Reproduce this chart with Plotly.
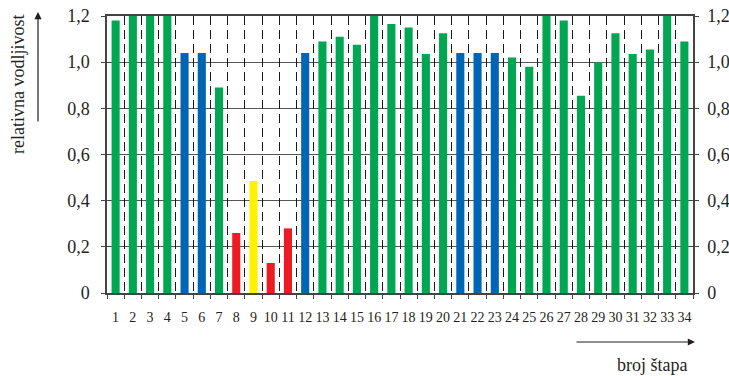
import plotly.graph_objects as go

stap = list(range(1, 35))
vodljivost = [1.18, 1.2, 1.2, 1.2, 1.04, 1.04, 0.89, 0.26, 0.485, 0.13,
              0.28, 1.04, 1.09, 1.11, 1.075, 1.2, 1.165, 1.15, 1.035, 1.125,
              1.04, 1.04, 1.04, 1.02, 0.98, 1.2, 1.18, 0.855, 1.0, 1.125,
              1.035, 1.055, 1.2, 1.09]
GREEN, BLUE, RED, YELLOW = "#00A651", "#0066B3", "#ED1C24", "#FFF200"
boje = [GREEN, GREEN, GREEN, GREEN, BLUE, BLUE, GREEN, RED, YELLOW, RED,
        RED, BLUE, GREEN, GREEN, GREEN, GREEN, GREEN, GREEN, GREEN, GREEN,
        BLUE, BLUE, BLUE, GREEN, GREEN, GREEN, GREEN, GREEN, GREEN, GREEN,
        GREEN, GREEN, GREEN, GREEN]
y_ticks = [0, 0.2, 0.4, 0.6, 0.8, 1.0, 1.2]
y_labels = ["0", "0,2", "0,4", "0,6", "0,8", "1,0", "1,2"]
x_granice = [i + 0.5 for i in range(0, 35)]

FONT = "Liberation Serif"
TXT = "#231F20"
AX = "#444444"
PW, PH = 586, 277  # plot area size in px

def px(xp):
    return (xp - 107) / PW

def py(yp):
    return 1 - (yp - 16) / PH

fig = go.Figure()
fig.add_trace(go.Bar(x=stap, y=vodljivost, marker=dict(color=boje, line=dict(width=0)),
                     width=0.47, xaxis="x", yaxis="y", showlegend=False))
for ya in ["y2", "y3", "y4"]:
    fig.add_trace(go.Scatter(x=[stap[0]], y=[0], mode="markers", marker=dict(opacity=0),
                             xaxis="x2", yaxis=ya, showlegend=False, hoverinfo="skip"))

common_y = dict(range=[0, 1.2], tickvals=y_ticks, zeroline=False, automargin=False,
                tickcolor=AX, showline=True, linecolor=AX, linewidth=1.5)

fig.update_layout(
    width=729, height=376,
    margin=dict(l=107, r=36, t=16, b=83, autoexpand=False),
    paper_bgcolor="white", plot_bgcolor="white",
    font=dict(family=FONT, color=TXT),
    xaxis=dict(range=[0.5, 34.5], tickvals=stap, ticktext=[str(s) for s in stap],
               tickfont=dict(size=14, family=FONT, color=TXT), ticks="", showgrid=False,
               showline=True, linecolor=AX, linewidth=1.5, mirror=True,
               zeroline=False, ticklabelstandoff=10, automargin=False),
    xaxis2=dict(range=[0.5, 34.5], overlaying="x", side="bottom", tickvals=x_granice,
                showticklabels=False, ticks="outside", ticklen=5, tickcolor=AX,
                showgrid=True, gridcolor="#1a1a1a", griddash="9px,5px", gridwidth=1,
                zeroline=False, layer="below traces", automargin=False),
    yaxis=dict(**common_y, ticktext=y_labels,
               tickfont=dict(size=18, family=FONT, color=TXT), ticks="outside", ticklen=4,
               ticklabelstandoff=8, showgrid=True, gridcolor="#555555", gridwidth=1.2,
               layer="below traces"),
    yaxis2=dict(**common_y, overlaying="y", side="right", ticktext=y_labels,
                tickfont=dict(size=18, family=FONT, color=TXT), ticks="outside",
                ticklen=4, ticklabelstandoff=5, showgrid=False),
    yaxis3=dict(**common_y, overlaying="y", side="left", ticks="inside", ticklen=4,
                showticklabels=False, showgrid=False),
    yaxis4=dict(**common_y, overlaying="y", side="right", ticks="inside", ticklen=4,
                showticklabels=False, showgrid=False),
    annotations=[
        dict(text="relativna vodljivost", textangle=-90, xref="x domain", yref="y domain",
             x=px(18), y=py(85), showarrow=False,
             font=dict(size=18, family=FONT, color=TXT), xanchor="center", yanchor="middle"),
        dict(text="", xref="x domain", yref="y domain", x=px(38), y=py(12),
             ax=px(38), ay=py(123), axref="x domain", ayref="y domain",
             showarrow=True, arrowhead=2, arrowsize=1.2, arrowwidth=1.2,
             arrowcolor=TXT),
        dict(text="", xref="x domain", yref="y domain", x=px(695), y=py(342),
             ax=px(575), ay=py(342), axref="x domain", ayref="y domain",
             showarrow=True, arrowhead=2, arrowsize=1.2, arrowwidth=1.2,
             arrowcolor=TXT),
        dict(text="broj štapa", xref="x domain", yref="y domain", x=px(689),
             y=py(365), showarrow=False, xanchor="right", yanchor="middle",
             font=dict(size=18, family=FONT, color=TXT)),
    ],
)

fig.write_html("out.html", config={"displayModeBar": False},
               post_script="document.body.style.margin='0';")
